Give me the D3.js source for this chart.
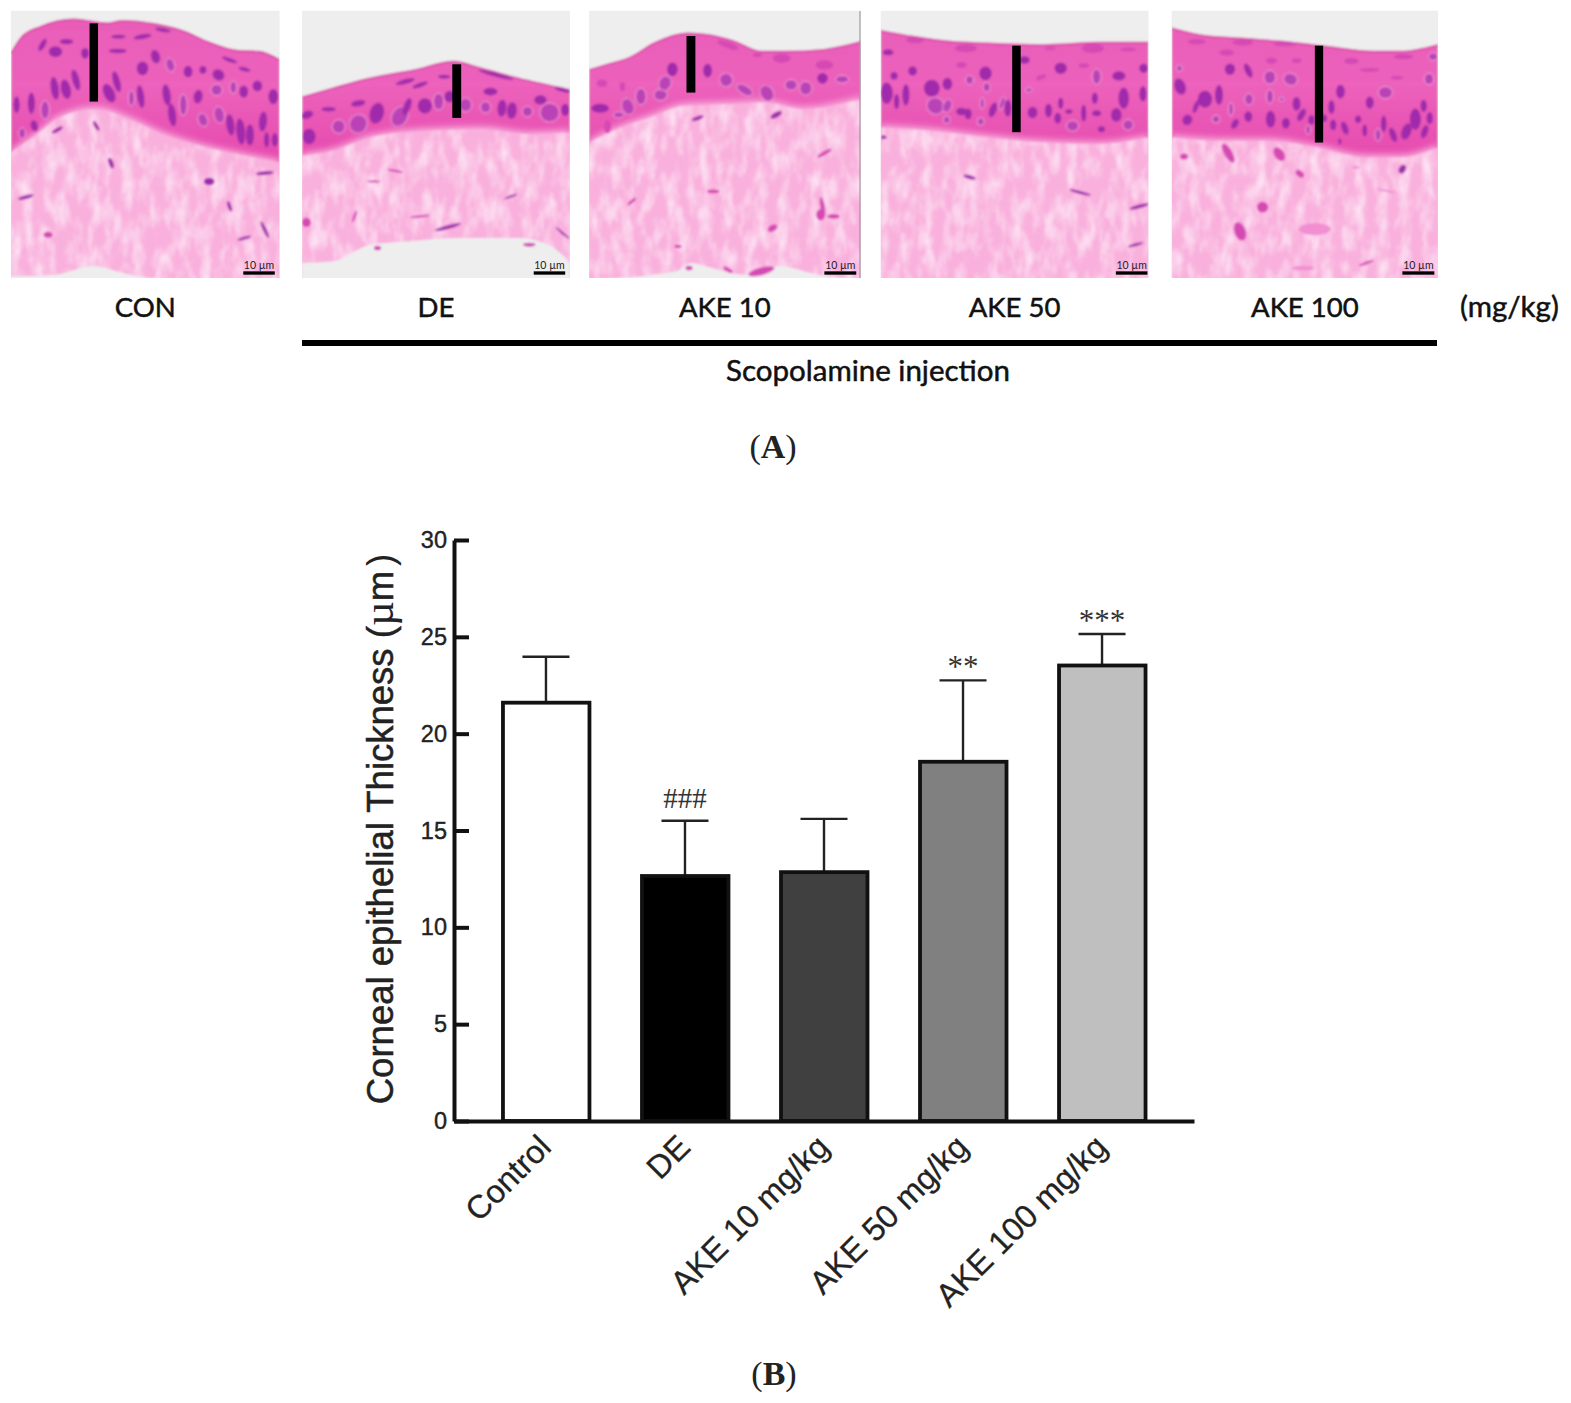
<!DOCTYPE html>
<html>
<head>
<meta charset="utf-8">
<script src="https://cdn.jsdelivr.net/npm/d3@7"></script>
<style>
  html, body { margin: 0; background: #fff; }
  svg { display: block; }
</style>
</head>
<body>
<svg id="figure" width="1571" height="1403"></svg>
<script>
"use strict"

// bar chart values
const categories = ["Control", "DE", "AKE 10 mg/kg", "AKE 50 mg/kg", "AKE 100 mg/kg"];
const thickness = [21.6, 12.65, 12.85, 18.55, 23.52];
const upperError = [23.97, 15.5, 15.6, 22.75, 25.15];
const significance = ["", "###", "", "**", "***"];
const barFills = ["#ffffff", "#000000", "#404040", "#808080", "#bfbfbf"];
const yTicks = [0, 5, 10, 15, 20, 25, 30];

// micrograph panels, all points are read in crop units of the picture
const panelLabels = ["CON", "DE", "AKE 10", "AKE 50", "AKE 100"];
const panelLeft = [11, 302, 589, 880.7, 1171.7];
const panelRight = [279.6, 570, 860.7, 1148.5, 1438];
const cropX = [[30, 755], [816, 1540], [25, 758], [812, 1535], [215, 1015]];
const cropY = [32, 835];

const surfaces = [
  [[30,160],[60,110],[110,80],[200,58],[290,70],[330,62],[420,72],[500,95],[560,125],[640,152],[700,155],[755,180]],
  [[816,292],[900,265],[1000,235],[1120,210],[1225,185],[1300,205],[1400,235],[1540,270]],
  [[25,210],[70,195],[140,170],[200,130],[290,100],[350,105],[420,125],[490,155],[560,155],[650,150],[758,125]],
  [[812,92],[900,110],[1000,125],[1100,130],[1250,135],[1400,128],[1535,128]],
  [[215,85],[300,105],[420,115],[550,125],[680,140],[820,155],[900,155],[1015,135]]
];
const basalEdges = [
  [[30,450],[100,395],[160,345],[260,320],[350,350],[440,395],[540,430],[640,455],[755,480]],
  [[816,460],[900,445],[1000,405],[1150,385],[1300,380],[1430,395],[1540,390]],
  [[25,420],[100,380],[200,340],[280,310],[400,305],[500,300],[600,320],[758,290]],
  [[812,375],[950,385],[1100,405],[1250,420],[1400,425],[1535,405]],
  [[215,405],[350,415],[500,415],[650,435],[800,465],[900,465],[1015,435]]
];
const lowerEdges = [
  [[30,830],[150,825],[250,800],[350,825],[460,840],[755,840]],
  [[816,790],[900,785],[1000,735],[1100,725],[1250,715],[1400,715],[1490,740],[1540,790]],
  [[25,840],[260,815],[300,790],[340,800],[440,825],[540,800],[640,825],[758,840]],
  [[812,840],[1535,840]],
  [[215,840],[1015,840]]
];

// nuclei: x, y, rx, ry, angle, tone (0 dark, 1 pale with halo, 2 faint)
const nucleiCon = [
  [45,315,7,22,0],[85,310,8,28,0],[122,330,10,24,0,1],[148,265,9,30,-8],[178,268,11,26,-12],[205,240,8,28,-15],
  [150,155,15,14,0],[180,125,15,7,0],[230,160,9,14,0],[115,135,6,18,30],[295,280,12,26,-25],[315,245,8,28,-15],
  [355,295,7,20,0,1],[380,290,8,30,-8],[385,205,13,18,0],[318,153,20,6,0],[385,110,20,6,-10],[320,110,16,5,0],
  [420,170,10,18,-15],[460,195,10,18,-15,1],[508,215,10,15,0],[450,285,9,28,-8],[465,345,9,30,-8],[495,315,9,28,0,1],
  [535,290,10,18,10],[548,210,8,10,0],[590,225,14,14,35],[585,270,13,15,0,1],[630,262,8,16,0,1],[658,275,10,16,0],
  [695,258,11,14,0],[738,290,11,20,0],[548,360,11,18,-20,1],[592,345,12,22,-10,1],[622,375,9,28,-8],[650,395,10,34,-5],
  [675,405,9,28,0],[710,365,9,26,5],[720,420,6,20,0],[742,420,7,18,0],[93,378,8,15,-15],[155,390,14,5,-30],
  [60,400,8,14,0,1],[620,180,18,5,20],[660,208,14,5,15],[440,90,18,5,10],[300,490,5,14,-20],[565,545,12,10,0],
  [715,520,20,5,-5],[70,592,18,5,-15],[130,705,10,8,0,2],[620,620,4,14,-20],[660,715,16,4,-15],[715,690,4,24,-25],[260,378,4,14,-30]
];
const nucleiDe = [
  [835,410,15,20,0],[915,380,15,18,0,1],[968,372,20,25,25,1],[1018,340,16,28,15],[1080,350,18,28,30,1],[1100,320,8,24,20],
  [1148,318,16,20,0],[1185,305,12,22,0,1],[1258,315,14,18,0,1],[1312,322,12,15,0,1],[1356,325,10,22,5],[1383,332,11,22,5],
  [1425,335,12,14,0,1],[1485,338,22,25,0,1],[1527,330,9,16,0],[830,345,14,10,-20],[888,328,16,6,0],[968,310,16,8,-10],
  [1095,245,22,6,-15],[1135,255,18,6,-20],[1325,275,16,10,0],[1460,300,14,12,0],[1520,270,18,5,15],[1340,225,40,5,15],
  [1215,290,12,15,0],[1200,230,14,5,0],[1068,513,18,3,10,2],[1010,545,15,3,0,2],[1135,650,22,3,-5,2],[1210,682,30,5,-15],
  [958,650,3,16,20,2],[828,668,10,12,0,2],[1380,590,15,3,-20],[1520,700,20,3,40],[1430,735,14,5,0,2],[1020,745,8,6,0,2]
];
const nucleiAke10 = [
  [55,325,20,12,0],[130,320,14,22,-20,1],[165,290,12,22,0,1],[218,285,15,15,0,1],[230,250,14,20,20,1],[250,208,12,18,0],
  [345,212,10,18,0],[395,240,15,18,-30,1],[445,270,20,12,30,1],[505,280,15,22,-30,1],[570,255,14,14,0,1],[610,265,14,18,0,1],
  [655,235,12,14,0],[708,238,15,10,0,1],[75,380,8,18,0,2],[105,345,12,8,0,1],[530,345,14,7,-30],[318,355,14,5,-20],
  [60,250,12,10,0,2],[115,260,6,12,0,2],[545,175,20,12,0,2],[660,195,20,12,0,2],[400,135,25,8,20,2],[480,165,10,5,0,2],
  [660,460,18,5,-30,2],[360,575,14,5,0,2],[140,605,12,4,-40,2],[655,620,5,25,-10,2],[650,645,10,15,0,2],[685,650,14,6,0,2],
  [520,685,12,8,-30,2],[265,740,8,4,0,2],[295,805,8,6,0,2],[490,815,30,10,-15,2],[400,810,12,5,30,2]
];
const nucleiAke50 = [
  [828,280,14,28,0],[880,285,8,28,0],[855,305,6,20,0],[950,265,18,22,0],[992,252,11,16,0],[1052,240,9,12,0,1],
  [1095,220,14,18,0],[1098,262,8,12,0,1],[960,318,20,22,30,1],[992,318,10,18,20,1],[1030,335,12,10,0],[1048,342,8,14,0],
  [1086,310,5,15,0,1],[1115,330,8,20,20],[1140,310,6,18,20,1],[1155,325,8,22,0],[1212,270,8,6,0,1],[1222,338,11,15,0],
  [1265,332,8,18,0],[1298,310,6,15,0],[1290,355,8,14,0],[1320,335,8,6,0],[1360,340,6,22,0],[1395,340,10,8,0],
  [1390,295,7,15,0],[1395,230,10,20,0,1],[1455,228,15,12,0],[1468,295,12,28,0],[1520,282,8,20,0],[1448,345,12,18,0],
  [1480,375,12,14,0,1],[1408,388,8,8,0],[1298,205,14,15,0],[1245,232,12,6,-20,2],[1200,180,12,10,0],[1042,145,25,10,0,2],
  [1270,145,12,4,0,2],[1385,145,25,12,0,2],[1480,148,18,5,0,2],[905,120,20,8,0,2],[832,157,12,8,0],[898,213,10,12,0],
  [848,228,8,10,0],[1030,195,12,8,0,2],[1522,205,10,12,0],[1360,197,12,6,0,2],[990,360,8,10,0,1],[1082,365,8,10,0,1],
  [1330,378,14,14,0,1],[1052,532,14,5,15],[1350,578,25,4,15],[1510,620,22,5,-15],[1500,735,18,4,-15],[820,412,6,5,0]
];
const nucleiAke100 = [
  [240,260,14,22,-20],[238,205,8,8,0,1],[315,298,18,22,0],[357,285,10,26,0],[288,320,6,18,20],[262,360,12,14,30],
  [348,358,10,10,0,1],[390,208,13,15,0],[445,212,8,20,-25],[393,328,6,18,0,1],[447,298,11,15,0,1],[445,350,10,14,0],
  [405,372,8,14,30],[510,232,15,18,0,1],[572,238,18,16,20,1],[510,290,9,18,0,1],[512,358,12,22,0],[558,370,10,14,0],
  [590,312,10,18,0],[605,345,8,18,30],[545,298,7,5,0,1],[380,158,18,8,0,2],[428,127,26,8,0,2],[555,132,28,6,0,2],
  [515,182,14,8,0,2],[590,182,12,6,0,2],[290,125,22,7,0,2],[755,183,18,8,0,2],[810,210,25,5,0,2],[892,233,16,5,0,2],
  [912,170,24,7,0,2],[1000,170,12,10,0,1],[988,237,12,15,0,1],[857,278,18,16,0,1],[810,308,10,16,0],[722,275,11,18,0],
  [695,322,8,18,0],[672,355,8,10,0],[700,375,8,14,0],[735,385,8,18,-20],[775,358,8,10,0],[795,392,6,16,0],
  [852,372,7,22,0],[835,405,8,16,0,1],[880,405,8,20,-20],[920,395,12,22,20],[947,358,14,28,0],[975,395,8,18,20],
  [990,355,8,16,0],[972,318,8,16,0],[635,360,8,12,0],[625,390,6,12,0,1],[720,425,4,8,0],[385,460,10,28,-30,2],
  [538,463,12,20,-35,2],[600,522,12,8,40,2],[252,470,10,8,0,2],[488,622,14,14,0,2],[420,695,14,25,-20,2],[645,688,40,16,0,3],
  [908,508,8,12,30],[800,790,20,4,-20,2],[610,805,28,6,0,3],[768,503,10,3,0,3],[860,573,25,3,10,3]
];
const nuclei = [nucleiCon, nucleiDe, nucleiAke10, nucleiAke50, nucleiAke100];
const nucleusTones = ["#a02cab", "#bb42b6", "#d548b4", "#f28fd2"];

// black thickness marks and 10 um scale bars, crop units: x0, x1, y0, y1
const thicknessMarks = [[242,265,70,305],[1222,1246,193,354],[288,312,108,278],[1167,1190,137,397],[645,670,137,428]];
const scaleBars = [[657,742,815,825],[1442,1527,815,825],[660,746,815,825],[1447,1532,815,825],[908,1004,815,825]];

const svg = d3.select("#figure");
const defs = svg.append("defs");

let soft = defs.append("filter").attr("id", "soft").attr("x", "-2%").attr("y", "-2%").attr("width", "104%").attr("height", "104%");
soft.append("feGaussianBlur").attr("stdDeviation", 1.1);

let edgeBlur = defs.append("filter").attr("id", "edgeBlur").attr("x", "-5%").attr("y", "-5%").attr("width", "110%").attr("height", "110%");
edgeBlur.append("feGaussianBlur").attr("stdDeviation", 3);

let nucleusBlur = defs.append("filter").attr("id", "nucleusBlur").attr("x", "-30%").attr("y", "-30%").attr("width", "160%").attr("height", "160%");
nucleusBlur.append("feGaussianBlur").attr("stdDeviation", 0.5);

// fibre look of the stroma
let fibres = defs.append("filter").attr("id", "fibres").attr("x", 0).attr("y", 0).attr("width", "100%").attr("height", "100%");
fibres.append("feTurbulence").attr("type", "fractalNoise").attr("baseFrequency", "0.09 0.04")
  .attr("numOctaves", 4).attr("seed", 4).attr("result", "noise");
fibres.append("feColorMatrix").attr("in", "noise").attr("type", "matrix")
  .attr("values", "0 0 0 0 1  0 0 0 0 0.85  0 0 0 0 0.95  1.7 0 0 0 -0.68").attr("result", "white");
fibres.append("feComposite").attr("in", "white").attr("in2", "SourceAlpha").attr("operator", "in").attr("result", "texture");
let fibreMerge = fibres.append("feMerge");
fibreMerge.append("feMergeNode").attr("in", "SourceGraphic");
fibreMerge.append("feMergeNode").attr("in", "texture");

const epithelium = defs.append("linearGradient").attr("id", "epithelium")
  .attr("gradientUnits", "userSpaceOnUse").attr("x1", 0).attr("x2", 0).attr("y1", 10).attr("y2", 160);
epithelium.append("stop").attr("offset", "0%").attr("stop-color", "#e85cb7");
epithelium.append("stop").attr("offset", "50%").attr("stop-color", "#ec62bc");
epithelium.append("stop").attr("offset", "100%").attr("stop-color", "#e64aae");

const labelFont = "Lato, sans-serif";

function drawPanel(i) {
  const top = 10.7, bottom = 278;
  const x = d3.scaleLinear().domain(cropX[i]).range([panelLeft[i], panelRight[i]]);
  const y = d3.scaleLinear().domain(cropY).range([top, bottom]);

  defs.append("clipPath").attr("id", "panel" + i).append("rect")
    .attr("x", panelLeft[i]).attr("y", top)
    .attr("width", panelRight[i] - panelLeft[i]).attr("height", bottom - top);

  const clipped = svg.append("g").attr("clip-path", "url(#panel" + i + ")");
  const g = clipped.append("g").attr("filter", "url(#soft)");

  g.append("rect")
    .attr("x", panelLeft[i] - 5).attr("y", top - 5)
    .attr("width", panelRight[i] - panelLeft[i] + 10).attr("height", bottom - top + 10)
    .attr("fill", "#eeeeee");

  const layer = d3.area()
    .x(d => x(d[0]))
    .y0(bottom + 8)
    .y1(d => y(d[1]))
    .curve(d3.curveMonotoneX);

  const outline = d3.line()
    .x(d => x(d[0]))
    .y(d => y(d[1]))
    .curve(d3.curveMonotoneX);

  g.append("path").attr("d", layer(surfaces[i])).attr("fill", "url(#epithelium)");
  g.append("path").attr("d", outline(surfaces[i])).attr("fill", "none").attr("stroke", "#d645a6").attr("stroke-width", 1.6);
  g.append("path").attr("d", layer(basalEdges[i])).attr("fill", "#f9b0dd").attr("filter", "url(#edgeBlur)");
  g.append("path").attr("d", layer(basalEdges[i].map(d => [d[0], d[1] + 8])))
    .attr("fill", "#f9b0dd").attr("filter", "url(#fibres)");
  g.append("path").attr("d", layer(lowerEdges[i])).attr("fill", "#eeeeee");

  g.selectAll("ellipse.nucleus")
    .data(nuclei[i])
    .join("ellipse")
    .attr("class", "nucleus")
    .attr("cx", d => x(d[0]))
    .attr("cy", d => y(d[1]))
    .attr("rx", d => 1.2 * (x(d[0] + d[2]) - x(d[0])))
    .attr("ry", d => 1.15 * (y(d[1] + d[3]) - y(d[1])))
    .attr("transform", d => "rotate(" + d[4] + " " + x(d[0]) + " " + y(d[1]) + ")")
    .attr("fill", d => nucleusTones[d[5] || 0])
    .attr("stroke", d => d[5] === 1 ? "#f8b4de" : "none")
    .attr("stroke-width", 0.8)
    .attr("filter", "url(#nucleusBlur)");

  const mark = thicknessMarks[i];
  clipped.append("rect")
    .attr("x", x(mark[0])).attr("y", y(mark[2]))
    .attr("width", x(mark[1]) - x(mark[0])).attr("height", y(mark[3]) - y(mark[2]))
    .attr("fill", "#000");

  const bar = scaleBars[i];
  clipped.append("rect")
    .attr("x", x(bar[0])).attr("y", y(bar[2]))
    .attr("width", x(bar[1]) - x(bar[0])).attr("height", y(bar[3]) - y(bar[2]))
    .attr("fill", "#000");
  clipped.append("text")
    .attr("x", (x(bar[0]) + x(bar[1])) / 2).attr("y", y(bar[2]) - 2.5)
    .attr("text-anchor", "middle")
    .attr("font-family", labelFont).attr("font-size", 10.5).attr("fill", "#222")
    .text("10 µm");

  addLabel((panelLeft[i] + panelRight[i]) / 2, 317, 27.5, "middle", panelLabels[i]);
}

function addLabel(x, y, size, anchor, label) {
  svg.append("text")
    .attr("x", x).attr("y", y)
    .attr("text-anchor", anchor)
    .attr("font-family", labelFont).attr("font-size", size)
    .attr("fill", "#111").attr("stroke", "#111").attr("stroke-width", 0.5)
    .text(label);
}

panelLabels.forEach((d, i) => drawPanel(i));

// hairline on the right of the third picture
svg.append("line").attr("x1", 860).attr("x2", 860).attr("y1", 11).attr("y2", 278).attr("stroke", "#8f8f8f").attr("stroke-width", 1);

addLabel(1460, 317, 29.5, "start", "(mg/kg)");
svg.append("rect").attr("x", 302).attr("y", 340).attr("width", 1135).attr("height", 6).attr("fill", "#000");
addLabel(868, 381, 29.5, "middle", "Scopolamine injection");

function panelTag(letter, x, y) {
  let tag = svg.append("text")
    .attr("x", x).attr("y", y)
    .attr("text-anchor", "middle")
    .attr("font-family", "'Liberation Serif', serif").attr("font-size", 34).attr("fill", "#222");
  tag.append("tspan").text("(");
  tag.append("tspan").attr("font-weight", "bold").text(letter);
  tag.append("tspan").text(")");
}
panelTag("A", 773, 458);
panelTag("B", 774, 1385);

// bar chart
const yScale = d3.scaleLinear().domain([0, 30]).range([1121, 540]);
const xScale = d3.scaleBand().domain(categories).range([454, 1194]).paddingInner(0.367).paddingOuter(0.345);

const chart = svg.append("g").attr("font-family", "'Liberation Sans', Arial, sans-serif");

const bars = chart.selectAll("g.bar")
  .data(categories)
  .join("g")
  .attr("class", "bar");

bars.append("line")
  .attr("x1", d => xScale(d) + xScale.bandwidth() / 2)
  .attr("x2", d => xScale(d) + xScale.bandwidth() / 2)
  .attr("y1", (d, i) => yScale(thickness[i]))
  .attr("y2", (d, i) => yScale(upperError[i]))
  .attr("stroke", "#222").attr("stroke-width", 2.4);

bars.append("line")
  .attr("x1", d => xScale(d) + xScale.bandwidth() / 2 - 23.5)
  .attr("x2", d => xScale(d) + xScale.bandwidth() / 2 + 23.5)
  .attr("y1", (d, i) => yScale(upperError[i]))
  .attr("y2", (d, i) => yScale(upperError[i]))
  .attr("stroke", "#222").attr("stroke-width", 2.4);

bars.append("rect")
  .attr("x", d => xScale(d) + 1)
  .attr("width", xScale.bandwidth() - 1.5)
  .attr("y", (d, i) => yScale(thickness[i]))
  .attr("height", (d, i) => yScale(0) - yScale(thickness[i]))
  .attr("fill", (d, i) => barFills[i])
  .attr("stroke", "#111").attr("stroke-width", 3.8);

bars.append("text")
  .attr("x", d => xScale(d) + xScale.bandwidth() / 2)
  .attr("y", (d, i) => yScale(upperError[i]) - (significance[i] === "###" ? 13 : 3))
  .attr("text-anchor", "middle")
  .attr("font-family", "'Liberation Serif', serif")
  .attr("font-size", (d, i) => significance[i] === "###" ? 29 : 31)
  .attr("fill", "#333")
  .text((d, i) => significance[i]);

const yAxis = d3.axisLeft(yScale).tickValues(yTicks).tickSizeInner(-15).tickSizeOuter(0).tickPadding(7);
const yGroup = chart.append("g").attr("transform", "translate(454,0)").call(yAxis);
yGroup.selectAll("path, line").attr("stroke", "#111").attr("stroke-width", 4);
yGroup.selectAll("text")
  .attr("font-family", "'Liberation Sans', Arial, sans-serif").attr("font-size", 23.5)
  .attr("fill", "#222").attr("stroke", "#222").attr("stroke-width", 0.4);

const xAxis = d3.axisBottom(xScale).tickSize(0).tickPadding(0);
const xGroup = chart.append("g").attr("transform", "translate(0,1121)").call(xAxis);
xGroup.select("path").attr("stroke", "#111").attr("stroke-width", 4);
xGroup.selectAll("text")
  .attr("font-family", "'Liberation Sans', Arial, sans-serif").attr("font-size", 32.5)
  .attr("fill", "#222").attr("stroke", "#222").attr("stroke-width", 0.3)
  .attr("text-anchor", "end")
  .attr("dy", 0)
  .attr("transform", "translate(7,28) rotate(-45)");

let yTitle = chart.append("text")
  .attr("transform", "translate(393,829) rotate(-90)")
  .attr("text-anchor", "middle")
  .attr("font-size", 36.5).attr("fill", "#222").attr("stroke", "#222").attr("stroke-width", 0.5)
  .text("Corneal epithelial Thickness (");
yTitle.append("tspan").attr("font-family", "'Liberation Serif', serif").attr("font-size", 43).attr("stroke-width", 0).text("µ");
yTitle.append("tspan").text("m");
yTitle.append("tspan").attr("dx", 5).attr("stroke-width", 0).text(")");
</script>
</body>
</html>
